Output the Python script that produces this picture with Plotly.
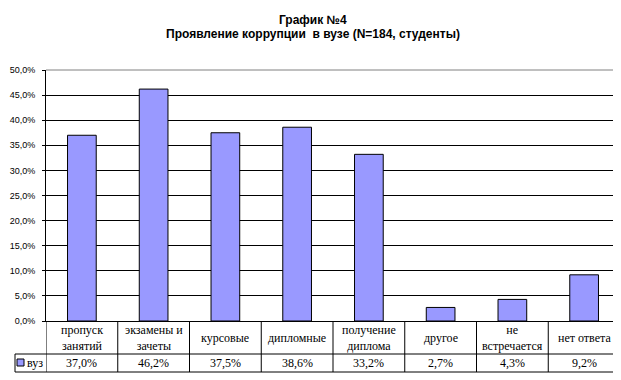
import plotly.graph_objects as go

categories = ["пропуск<br>занятий", "экзамены и<br>зачеты", "курсовые", "дипломные",
              "получение<br>диплома", "другое", "не<br>встречается", "нет ответа"]
values = [37.0, 46.2, 37.5, 38.6, 33.2, 2.7, 4.3, 9.2]
series_name = "вуз"
y_ticks = [0, 5, 10, 15, 20, 25, 30, 35, 40, 45, 50]
y_ticktext = [f"{t:.1f}%".replace(".", ",") for t in y_ticks]
title_lines = ["График №4", "Проявление коррупции  в вузе (N=184, студенты)"]

BAR = "#9999FF"
W, H = 621, 380
L, R, T, B = 38, 9, 62, 67
ph = H - T - B
pw = W - L - R

def py(px):  # pixel y (from top) -> paper y
    return (H - B - px) / ph

def pxp(px):  # pixel x -> paper x
    return (px - L) / pw

fig = go.Figure()
fig.add_trace(go.Bar(x=list(range(len(categories))), y=values, name=series_name,
                     marker=dict(color=BAR, line=dict(color="black", width=1)),
                     showlegend=False, hoverinfo="skip"))

shapes = []
line = dict(color="black", width=1)
y_hdr = py(346)
y_bot = py(364)
n = len(categories)
shapes.append(dict(type="line", xref="paper", yref="paper", x0=pxp(7), x1=1, y0=y_hdr, y1=y_hdr, line=line))
shapes.append(dict(type="line", xref="paper", yref="paper", x0=pxp(7), x1=1, y0=y_bot, y1=y_bot, line=line))
shapes.append(dict(type="line", xref="paper", yref="paper", x0=pxp(7), x1=pxp(7), y0=y_hdr, y1=y_bot, line=line))
for i in range(n + 1):
    shapes.append(dict(type="line", xref="x", yref="paper", x0=i - 0.5, x1=i - 0.5, y0=0, y1=y_bot, line=line))
shapes.append(dict(type="line", xref="paper", yref="paper", x0=0, x1=1, y0=1, y1=1, line=dict(color="#808080", width=1)))
shapes.append(dict(type="line", xref="paper", yref="paper", x0=1, x1=1, y0=0, y1=1, line=dict(color="#808080", width=1)))
shapes.append(dict(type="rect", xref="paper", yref="paper", x0=pxp(9), x1=pxp(16), y0=py(358), y1=py(351),
                   fillcolor=BAR, line=dict(color="black", width=1)))

annotations = []
tf = dict(family="Liberation Serif", size=12, color="black")
for i, (c, v) in enumerate(zip(categories, values)):
    annotations.append(dict(x=i, y=(0 + y_hdr) / 2, xref="x", yref="paper", text=c, showarrow=False,
                            font=tf, xanchor="center", yanchor="middle"))
    annotations.append(dict(x=i, y=(y_hdr + y_bot) / 2, xref="x", yref="paper",
                            text=f"{v:.1f}%".replace(".", ","), showarrow=False,
                            font=tf, xanchor="center", yanchor="middle"))
annotations.append(dict(x=pxp(17), y=(y_hdr + y_bot) / 2, xref="paper", yref="paper", text=series_name,
                        showarrow=False, font=tf, xanchor="left", yanchor="middle"))
titlef = dict(family="Liberation Sans", size=12, color="black")
for k, (txt, ypix) in enumerate(zip(title_lines, [12, 26])):
    annotations.append(dict(x=pxp(305), y=py(ypix), xref="paper", yref="paper", text=f"<b>{txt}</b>",
                            showarrow=False, font=titlef, xanchor="center", yanchor="middle"))

fig.update_layout(
    width=W, height=H,
    margin=dict(l=L, r=R, t=T, b=B, pad=0),
    paper_bgcolor="white", plot_bgcolor="white",
    bargap=0.6,
    shapes=shapes, annotations=annotations,
    xaxis=dict(range=[-0.5, n - 0.5], showticklabels=False, showgrid=False, zeroline=False,
               showline=True, linecolor="black", linewidth=1, ticks="", fixedrange=True,
               automargin=False),
    yaxis=dict(range=[0, 50], tickmode="array", tickvals=y_ticks, ticktext=y_ticktext,
               showgrid=True, gridcolor="black", gridwidth=1, zeroline=False,
               showline=True, linecolor="black", linewidth=1, ticks="outside", ticklen=3, tickcolor="black",
               ticklabelstandoff=5, automargin=False,
               tickfont=dict(family="Liberation Sans", size=9, color="black"),
               fixedrange=True),
)

fig.write_html("out.html")
